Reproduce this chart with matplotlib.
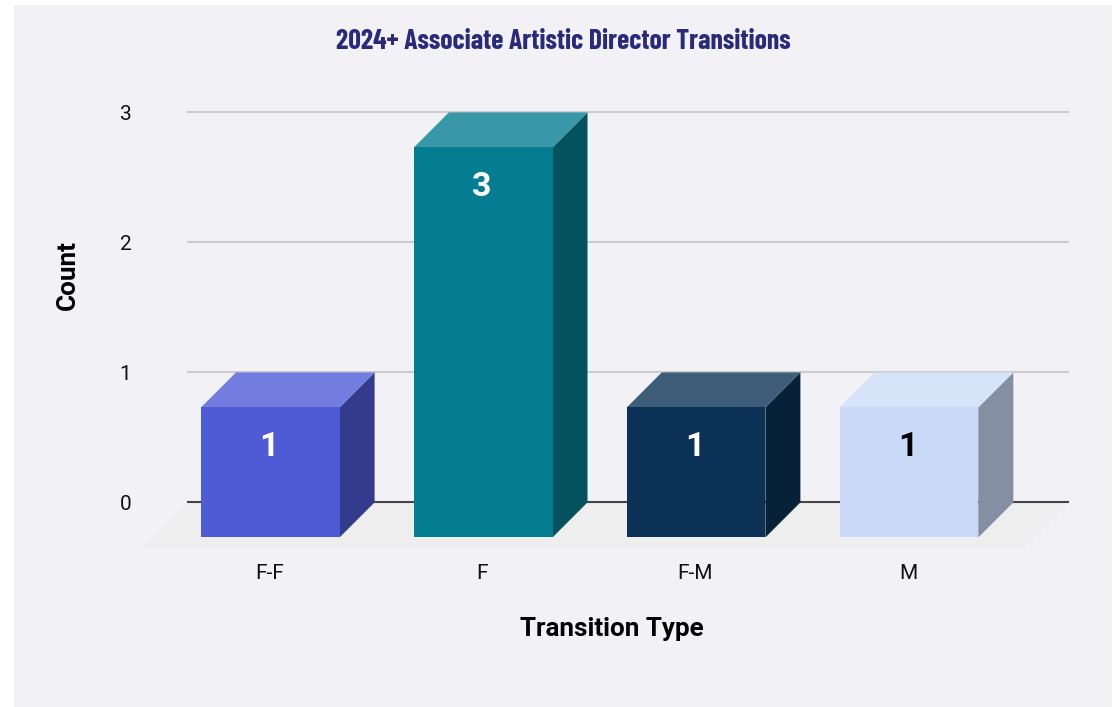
import matplotlib
matplotlib.use("Agg")
import matplotlib.pyplot as plt
from matplotlib.patches import Rectangle, Polygon

categories = ["F-F", "F", "F-M", "M"]
counts = [1, 3, 1, 1]
yticks = [0, 1, 2, 3]
front_colors = ["#4f5bd5", "#047d90", "#0b3156", "#c9daf8"]
top_colors = ["#727ddf", "#3898a8", "#3e5d79", "#d6e3f9"]
side_colors = ["#323b8c", "#05525f", "#072138", "#848fa3"]
label_colors = ["white", "white", "white", "black"]

W, H = 1119, 707
PW, PH = 212.9, 130.0      # pixels per data unit
DEPTH = 35                 # 3D offset in pixels
FLOOR = 45
dx, dy = DEPTH / PW, DEPTH / PH
bw = 138.6 / PW

fig = plt.figure(figsize=(W / 100, H / 100), dpi=100, facecolor="white")
fig.patches.append(Rectangle((14 / W, 0), 1098 / W, 702 / H, transform=fig.transFigure,
                             facecolor="#f1f1f6", edgecolor="none", zorder=-10))

ax = fig.add_axes([187 / W, (H - 502.4) / H, 882 / W, 390 / H])
ax.patch.set_alpha(0)
x0 = (187 - 305.3) / PW
x1 = (1069 - 305.3) / PW
ax.set_xlim(x0, x1)
ax.set_ylim(0, 3)
for s in ax.spines.values():
    s.set_visible(False)
ax.tick_params(length=0)

for t in yticks[1:]:
    ax.plot([x0, x1], [t, t], color="#cccccc", lw=1.5, zorder=1, clip_on=False, solid_capstyle="butt")
ax.add_patch(Polygon([(x0, 0), (x1, 0), (x1 - FLOOR / PW, -FLOOR / PH), (x0 - FLOOR / PW, -FLOOR / PH)],
                     closed=True, facecolor="#eeeeee", edgecolor="none", zorder=0, clip_on=False))
ax.plot([x0, x1], [0, 0], color="#444444", lw=1.5, zorder=1, clip_on=False, solid_capstyle="butt")

for i, v in enumerate(counts):
    # back plane spans [i-bw/2, i+bw/2] x [0, v]; front plane is offset by (-dx, -dy)
    l, r = i - bw / 2 - dx, i + bw / 2 - dx
    b, t = -dy, v - dy
    ax.add_patch(Polygon([(r, b), (r + dx, b + dy), (r + dx, t + dy), (r, t)], facecolor=side_colors[i],
                         edgecolor="none", zorder=3, clip_on=False))
    ax.add_patch(Polygon([(l, t), (l + dx, t + dy), (r + dx, t + dy), (r, t)], facecolor=top_colors[i],
                         edgecolor="none", zorder=3, clip_on=False))
    ax.add_patch(Rectangle((l, b), r - l, t - b, facecolor=front_colors[i], edgecolor="none",
                           zorder=4, clip_on=False))
    ax.text((l + r) / 2 - 1 / PW, t - 40 / PH, str(v), ha="center", va="center", color=label_colors[i],
            fontsize=24.5, fontweight="bold", family="Roboto", zorder=5)
    ax.text((l + r) / 2 - 1 / PW, -71.5 / PH, categories[i], ha="center", va="center", fontsize=15,
            family="Roboto", color="#111111")

ax.set_xticks([])
ax.set_yticks(yticks)
ax.set_yticklabels([str(t) for t in yticks], fontsize=15, family="Roboto", color="#111111")
ax.tick_params(axis="y", pad=40)

fig.text(563 / W, 1 - 41.5 / H, "2024+ Associate Artistic Director Transitions", ha="center", va="center",
         fontsize=20, fontweight="bold", color="#2a2a7c", family=["Barlow Condensed", "Roboto"])
fig.text(612 / W, 1 - 629 / H, "Transition Type", ha="center", va="center", fontsize=18.7,
         fontweight="bold", family="Roboto", color="black")
fig.text(67.5 / W, 1 - 275 / H, "Count", ha="center", va="center", rotation=90, fontsize=18.7,
         fontweight="bold", family="Roboto", color="black")

fig.savefig("out.png", dpi=100, facecolor="white")
